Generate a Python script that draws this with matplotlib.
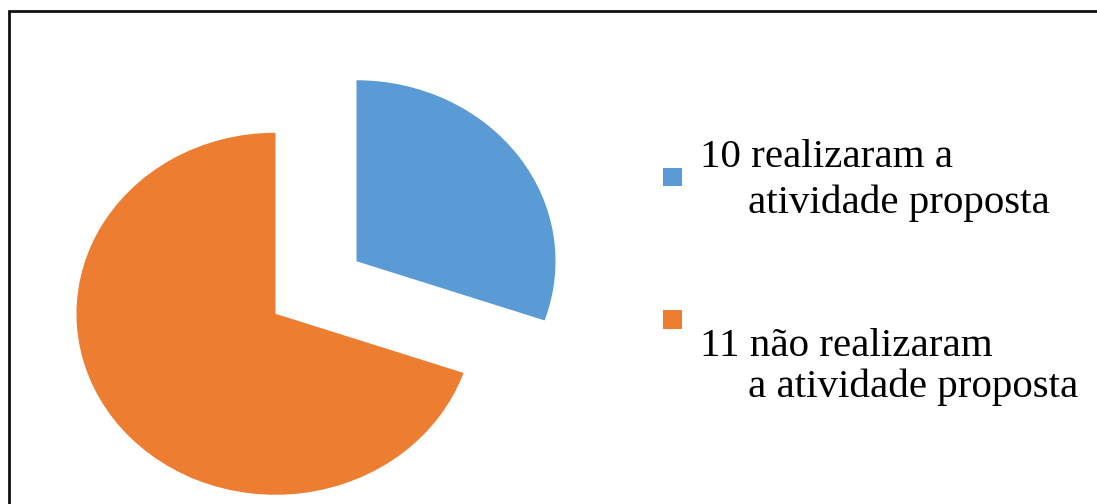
import matplotlib
matplotlib.use("Agg")
import matplotlib.pyplot as plt
from matplotlib.lines import Line2D
from matplotlib.patches import Rectangle

# ---- data ----
categories = ["10 realizaram a atividade proposta", "11 não realizaram a atividade proposta"]
label_lines = [["10 realizaram a", "atividade proposta"],
               ["11 não realizaram", "a atividade proposta"]]
shares = [30.3, 69.7]          # slice sizes (percent)
colors = ["#5B9BD5", "#ED7D31"]

W, H = 1097, 504
DPI = 100
fig = plt.figure(figsize=(W / DPI, H / DPI), dpi=DPI)
fig.patch.set_facecolor("white")

def fx(px):
    return px / W

def fy(py):
    return 1 - py / H

# axes covering the whole figure; data scale chosen so the pie is slightly wider than tall
ax = fig.add_axes([0, 0, 1, 1])
ax.pie(shares, colors=colors, startangle=90, counterclock=False,
       explode=[0.25, 0.25], radius=1.0,
       wedgeprops=dict(linewidth=0, edgecolor="none"))
cx, cy = 316, 287.5
rx, ry = 199, 181
ax.set_xlim(-cx / rx, (W - cx) / rx)
ax.set_ylim(-(H - cy) / ry, cy / ry)
ax.set_aspect("auto")
ax.axis("off")

# frame (left and top edges visible)
fig.add_artist(Line2D([fx(9.3), fx(9.3), 1.02], [-0.02, fy(11.3), fy(11.3)],
                      transform=fig.transFigure, color="#111111", linewidth=2.0,
                      solid_joinstyle="miter"))

# legend-like entries
font = dict(family="Liberation Serif", fontsize=29.5, color="#000000")
marker_boxes = [(663, 168, 19, 18), (663, 310, 19, 19)]
line_pos = [[(700, 167), (748, 213)],
            [(700, 356), (748, 397)]]
for (mx, my, mw, mh), col, lines, pos in zip(marker_boxes, colors, label_lines, line_pos):
    fig.add_artist(Rectangle((fx(mx), fy(my + mh)), mw / W, mh / H,
                             transform=fig.transFigure, facecolor=col,
                             edgecolor="none"))
    for txt, (tx, ty) in zip(lines, pos):
        fig.text(fx(tx), fy(ty), txt, ha="left", va="baseline", **font)

fig.savefig("out.png", dpi=DPI, facecolor="white")
